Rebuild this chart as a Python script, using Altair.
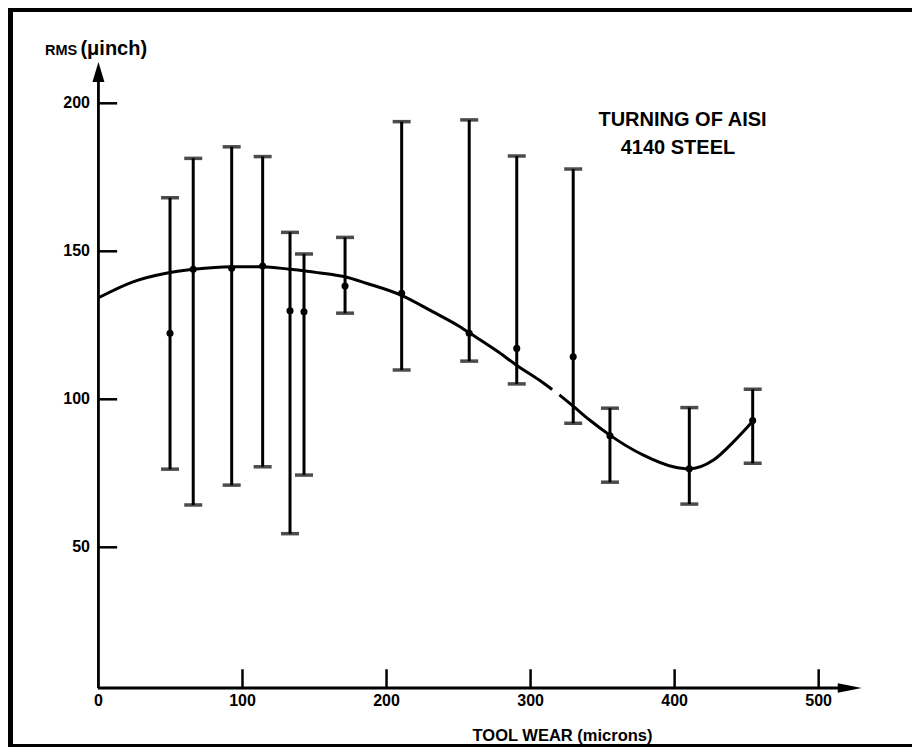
import altair as alt
import pandas as pd

# ---- data ----
wear = [49.7, 65.8, 92.5, 114.0, 133.0, 142.7, 171.2, 210.5, 257.4, 290.4, 329.6, 355.1, 410.2, 454.2]
rms_mean = [122.3, 143.9, 144.3, 145.0, 129.9, 129.6, 138.3, 135.8, 122.3, 117.2, 114.4, 87.7, 76.5, 92.8]
rms_high = [168.1, 181.4, 185.3, 182.0, 156.4, 149.1, 154.7, 193.8, 194.4, 182.2, 177.8, 97.0, 97.2, 103.4]
rms_low = [76.4, 64.3, 71.0, 77.2, 54.6, 74.4, 129.1, 109.9, 112.9, 105.2, 91.9, 72.0, 64.6, 78.4]

fit_x = [0, 24, 47, 66, 92, 114, 133, 152, 171, 186, 210, 232, 251, 258, 278, 290, 306, 315,
         320, 330, 341, 355, 378, 399, 410, 427, 441, 455]
fit_y = [134.3, 139.7, 142.6, 143.9, 144.8, 144.8, 143.9, 142.8, 141.4, 139.2, 135.2, 129.6, 124.5,
         122.3, 115.9, 111.6, 106.5, 103.3, 101.5, 97.5, 93.0, 87.9, 81.2, 77.2, 76.5, 79.5, 85.7, 93.0]
fit_part = ["a"] * 18 + ["b"] * 10

x_ticks = [0, 100, 200, 300, 400, 500]
x_inner_ticks = [100, 200, 300, 400, 500]
y_ticks = [50, 100, 150, 200]

annot_text = ["TURNING OF AISI", "4140 STEEL"]
annot_x = [405.5, 402.3]
annot_y = [194.3, 184.8]

# ---- layout ----
W, H = 904, 739
FONT = "Liberation Sans"
INK = "#000000"
X_AXIS_AT = 2.47

xs = alt.Scale(domain=[-62.79, 564.8], nice=False, zero=False)
ys = alt.Scale(domain=[-17.47, 232.2], nice=False, zero=False)

bars = pd.DataFrame({"wear": wear, "mean": rms_mean, "high": rms_high, "low": rms_low})
fit = pd.DataFrame({"x": fit_x, "y": fit_y, "part": fit_part})
one = pd.DataFrame({"a": [0]})

err = alt.Chart(bars).mark_rule(color=INK, strokeWidth=3).encode(
    x=alt.X("wear:Q", scale=xs, axis=None),
    y=alt.Y("low:Q", scale=ys, axis=None),
    y2="high:Q",
)
cap_hi = alt.Chart(bars).mark_tick(color=INK, orient="horizontal", size=18, thickness=3.5).encode(
    x=alt.X("wear:Q", scale=xs, axis=None), y=alt.Y("high:Q", scale=ys, axis=None))
cap_lo = alt.Chart(bars).mark_tick(color=INK, orient="horizontal", size=18, thickness=3.5).encode(
    x=alt.X("wear:Q", scale=xs, axis=None), y=alt.Y("low:Q", scale=ys, axis=None))
dots = alt.Chart(bars).mark_circle(color=INK, opacity=1, size=50).encode(
    x=alt.X("wear:Q", scale=xs, axis=None), y=alt.Y("mean:Q", scale=ys, axis=None))

curve = alt.Chart(fit).mark_line(color=INK, strokeWidth=3, interpolate="monotone").encode(
    x=alt.X("x:Q", scale=xs, axis=None), y=alt.Y("y:Q", scale=ys, axis=None), detail="part:N")

# axis lines, inward ticks, tick labels and arrowheads
yline = alt.Chart(one).mark_rule(color=INK, strokeWidth=2.8).encode(
    x=alt.datum(0, scale=xs, axis=None), y=alt.datum(X_AXIS_AT, scale=ys, axis=None), y2=alt.datum(212))
xline = alt.Chart(one).mark_rule(color=INK, strokeWidth=2.8).encode(
    y=alt.datum(X_AXIS_AT, scale=ys, axis=None), x=alt.datum(-0.4, scale=xs, axis=None), x2=alt.datum(522))
xt = alt.Chart(pd.DataFrame({"t": x_inner_ticks})).mark_rule(color=INK, strokeWidth=2.5).encode(
    x=alt.X("t:Q", scale=xs, axis=None), y=alt.datum(X_AXIS_AT, scale=ys, axis=None), y2=alt.datum(8.8))
yt = alt.Chart(pd.DataFrame({"t": y_ticks})).mark_rule(color=INK, strokeWidth=2.5).encode(
    y=alt.Y("t:Q", scale=ys, axis=None), x=alt.datum(0, scale=xs, axis=None), x2=alt.datum(13))
xl = alt.Chart(pd.DataFrame({"t": x_ticks})).mark_text(
    font=FONT, fontSize=16, fontWeight="bold", color=INK, align="center", baseline="middle").encode(
    x=alt.X("t:Q", scale=xs, axis=None), y=alt.datum(-2.0, scale=ys, axis=None), text="t:Q")
yl = alt.Chart(pd.DataFrame({"t": y_ticks})).mark_text(
    font=FONT, fontSize=16, fontWeight="bold", color=INK, align="right", baseline="middle").encode(
    y=alt.Y("t:Q", scale=ys, axis=None), x=alt.datum(-5.9, scale=xs, axis=None), text="t:Q")
arrow_up = alt.Chart(one).mark_point(shape="M0,-1L0.6,1L-0.6,1Z", filled=True, color=INK, opacity=1, size=400).encode(
    x=alt.datum(0, scale=xs, axis=None), y=alt.datum(210.6, scale=ys, axis=None))
arrow_right = alt.Chart(one).mark_point(shape="M1,0L-1,-0.4L-1,0.4Z", filled=True, color=INK, opacity=1, size=576).encode(
    x=alt.datum(521.6, scale=xs, axis=None), y=alt.datum(X_AXIS_AT, scale=ys, axis=None))

# text
annot = alt.Chart(pd.DataFrame({"x": annot_x, "y": annot_y, "t": annot_text})).mark_text(
    font=FONT, fontSize=20, fontWeight="bold", color=INK, align="center", baseline="middle").encode(
    x=alt.X("x:Q", scale=xs, axis=None), y=alt.Y("y:Q", scale=ys, axis=None), text="t:N")
xtitle = alt.Chart(one).mark_text(font=FONT, fontSize=16.5, fontWeight="bold", color=INK,
                                  align="center", baseline="middle", text="TOOL WEAR (microns)").encode(
    x=alt.datum(322.2, scale=xs, axis=None), y=alt.datum(-13.75, scale=ys, axis=None))
ytitle1 = alt.Chart(one).mark_text(font=FONT, fontSize=14.5, fontWeight="bold", color=INK,
                                   align="left", baseline="alphabetic", text="RMS").encode(
    x=alt.datum(-37.1, scale=xs, axis=None), y=alt.datum(216.3, scale=ys, axis=None))
ytitle2 = alt.Chart(one).mark_text(font=FONT, fontSize=20, fontWeight="bold", color=INK,
                                   align="left", baseline="alphabetic", text="(μinch)").encode(
    x=alt.datum(-12.5, scale=xs, axis=None), y=alt.datum(216.3, scale=ys, axis=None))

# frame of the scanned figure: left, top and bottom sides only, as filled bands
f_top = alt.Chart(one).mark_rect(color=INK, strokeWidth=0).encode(
    x=alt.value(0), x2=alt.value(W), y=alt.value(0), y2=alt.value(4))
f_left = alt.Chart(one).mark_rect(color=INK, strokeWidth=0).encode(
    x=alt.value(0), x2=alt.value(5), y=alt.value(0), y2=alt.value(H))
f_bot = alt.Chart(one).mark_rect(color=INK, strokeWidth=0).encode(
    x=alt.value(0), x2=alt.value(W), y=alt.value(H - 3), y2=alt.value(H))

chart = alt.layer(
    err, cap_hi, cap_lo, curve, dots, yline, xline, xt, yt, xl, yl, arrow_up, arrow_right,
    annot, xtitle, ytitle1, ytitle2, f_top, f_left, f_bot
).properties(
    width=W, height=H, autosize=alt.AutoSizeParams(type="none"), padding=0, background="white"
).configure_view(strokeWidth=0, stroke="transparent")

chart.save("out.html", embed_options={"renderer": "svg", "actions": False})
